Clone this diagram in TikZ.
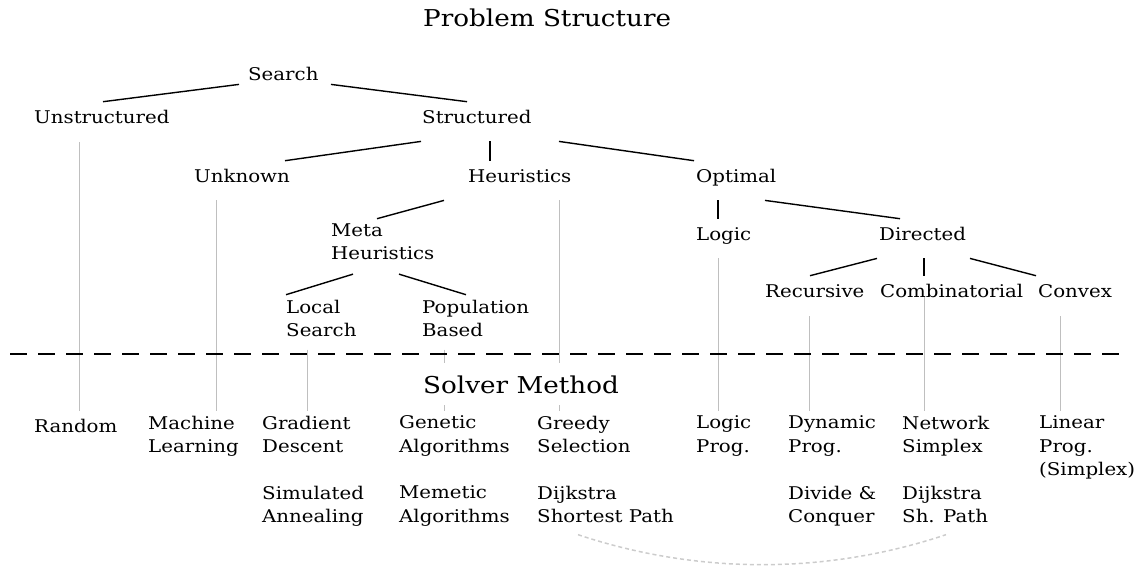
\documentclass[tikz,border=0pt]{standalone}
\usepackage{fontspec}
\setmainfont{DejaVu Serif}[FakeStretch=1.13]
\usetikzlibrary{calc}
\tikzset{
  txt/.style={anchor=north west, align=left, inner sep=0pt,
    font=\fontsize{17.5}{23.3}\selectfont,
    execute at begin node=\strut, execute at end node=\strut},
  ttl/.style={anchor=base west, inner sep=0pt, font=\fontsize{23.2}{27}\selectfont},
  rama/.style={line width=1.4pt},
  guia/.style={draw=black!25, line width=1pt},
}
\begin{document}
\begin{tikzpicture}[x=1pt,y=-1pt]
  \useasboundingbox (0,0) rectangle (1134,573);
  \node[ttl] (tprob) at (423,26) {Problem Structure};
  % arbol del problema
  \node[txt] (search)   at (248,63.7)  {Search};
  \node[txt] (unstr)    at (34,106.7)  {Unstructured};
  \node[txt] (struct)   at (422,106.7) {Structured};
  \node[txt] (unknown)  at (194,165.7) {Unknown};
  \node[txt] (heur)     at (468,165.7) {Heuristics};
  \node[txt] (optimal)  at (696,165.7) {Optimal};
  \node[txt] (meta)     at (331,223.7) {Meta\\Heuristics};
  \node[txt] (logic)    at (696,223.7) {Logic};
  \node[txt] (directed) at (879,223.7) {Directed};
  \node[txt] (local)    at (286,299.7) {Local\\Search};
  \node[txt] (pop)      at (422,299.7) {Population\\Based};
  \node[txt] (rec)      at (765,280.7) {Recursive};
  \node[txt] (comb)     at (880,280.7) {Combinatorial};
  \node[txt] (convex)   at (1038,280.7) {Convex};
  % metodos
  \node[txt] (random)    at (34,415.7)   {Random};
  \node[txt] (ml)        at (148,415.7)  {Machine\\Learning};
  \node[txt] (gradient)  at (262,415.7)  {Gradient\\Descent};
  \node[txt] (genetic)   at (399,415.7)  {Genetic\\Algorithms};
  \node[txt] (greedy)    at (537,415.7)  {Greedy\\Selection};
  \node[txt] (logicprog) at (696,415.7)  {Logic\\Prog.};
  \node[txt] (dynamic)   at (788,415.7)  {Dynamic\\Prog.};
  \node[txt] (network)   at (902,415.7)  {Network\\Simplex};
  \node[txt] (linear)    at (1039,415.7) {Linear\\Prog.\\(Simplex)};
  \node[txt] (annealing) at (262,485.7)  {Simulated\\Annealing};
  \node[txt] (memetic)   at (399,485.7)  {Memetic\\Algorithms};
  \node[txt] (dijkA)     at (537,485.7)  {Dijkstra\\Shortest Path};
  \node[txt] (divide)    at (788,485.7)  {Divide \&\\Conquer};
  \node[txt] (dijkB)     at (902,485.7)  {Dijkstra\\Sh. Path};

  \foreach \a/\ax/\ay/\b/\bx in {search/-9/-3/unstr/69, search/83/-3/struct/45,
      struct/-1/11/unknown/91, struct/68/11/heur/22, struct/137/11/optimal/-2,
      heur/-24/11/meta/46, optimal/22/11/logic/22, optimal/69/11/directed/21,
      meta/22/7/local/0, meta/68/7/pop/44,
      directed/-2/11/rec/45, directed/45/11/comb/44, directed/91/11/convex/-2}
    \draw[rama] ($(\a.south west)+(\ax,\ay)$) -- ($(\b.north west)+(\bx,-5)$);

  \foreach \s/\m/\dx/\dy in {unstr/random/45/12, unknown/ml/68/11, heur/greedy/22/11,
      local/gradient/45/6, pop/genetic/45/6, logic/logicprog/22/11,
      rec/dynamic/21/12, comb/network/22/-7, convex/linear/21/12}
    \draw[guia] let \p1=($(\m.north west)+(\dx,-5)$), \p2=($(\s.south)+(0,\dy)$)
      in (\x1,\y2) -- (\p1);

  \draw[line width=2pt, dash pattern=on 17pt off 11pt] (10,354) -- (1122,354);
  \node[ttl, fill=white, inner ysep=12pt, inner xsep=2pt] (tsolv) at (421,393) {Solver Method};

  \draw[black!20, line width=1.5pt, dash pattern=on 4pt off 3pt]
    ($(dijkA.south west)+(41,5)$) .. controls +(120,40) and +(-120,40) .. ($(dijkB.south west)+(44,5)$);
\end{tikzpicture}
\end{document}
